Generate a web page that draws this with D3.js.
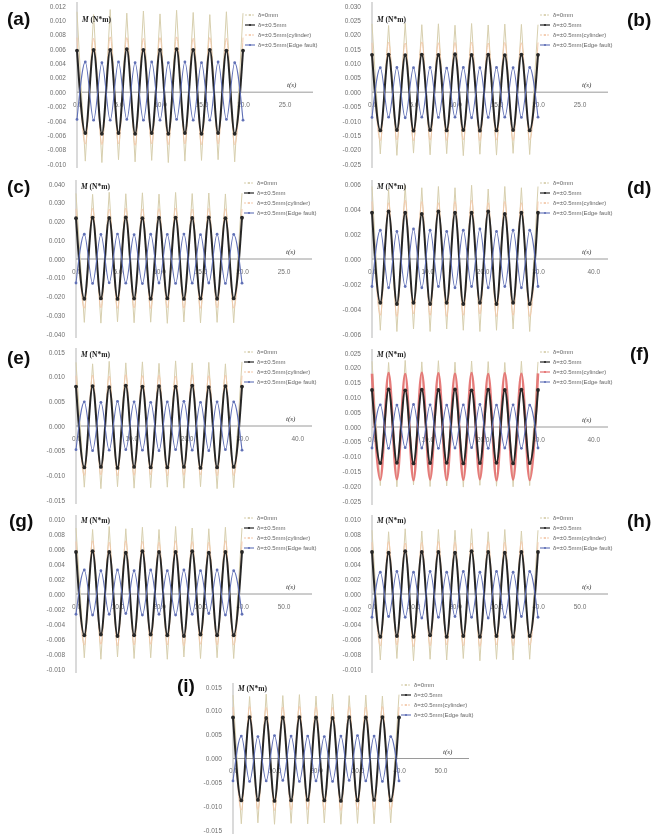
<!DOCTYPE html>
<html>
<head>
<meta charset="utf-8">
<script src="https://cdn.jsdelivr.net/npm/d3@7"></script>
<style>
  body { margin: 0; background: #fff; }
  svg { display: block; }
</style>
</head>
<body>
<div id="main"></div>
<script>
///
/// Data : time of each peak / trough, tick values, and the peak / trough values
///
var t25 = [0,1,2,3,4,5,6,7,8,9,10,11,12,13,14,15,16,17,18,19,20];
var t40 = [0,1.5,3,4.5,6,7.5,9,10.5,12,13.5,15,16.5,18,19.5,21,22.5,24,25.5,27,28.5,30];
var t50 = [0,2,4,6,8,10,12,14,16,18,20,22,24,26,28,30,32,34,36,38,40];

var xTicks25 = [0,5,10,15,20,25];
var xTicks40 = [0,10,20,30,40];
var xTicks50 = [0,10,20,30,40,50];

var yTicksA = [0.012,0.010,0.008,0.006,0.004,0.002,0,-0.002,-0.004,-0.006,-0.008,-0.010];
var yTicksB = [0.030,0.025,0.020,0.015,0.010,0.005,0,-0.005,-0.010,-0.015,-0.020,-0.025];
var yTicksC = [0.040,0.030,0.020,0.010,0,-0.010,-0.020,-0.030,-0.040];
var yTicksD = [0.006,0.004,0.002,0,-0.002,-0.004,-0.006];
var yTicksE = [0.015,0.010,0.005,0,-0.005,-0.010,-0.015];
var yTicksF = [0.025,0.020,0.015,0.010,0.005,0,-0.005,-0.010,-0.015,-0.020,-0.025];
var yTicksG = [0.010,0.008,0.006,0.004,0.002,0,-0.002,-0.004,-0.006,-0.008,-0.010];
var yTicksH = [0.010,0.008,0.006,0.004,0.002,0,-0.002,-0.004,-0.006,-0.008,-0.010];
var yTicksI = [0.015,0.010,0.005,0,-0.005,-0.010,-0.015];

// legend order: δ=0mm, δ=±0.5mm, cylinder, edge fault
var seriesNames = ["δ=0mm", "δ=±0.5mm", "δ=±0.5mm(cylinder)", "δ=±0.5mm(Edge fault)"];

// (a)
var aTan = [0.0112,-0.0096,0.0108,-0.0098,0.0115,-0.0094,0.0110,-0.0097,0.0113,-0.0095,0.0109,-0.0098,0.0114,-0.0096,0.0111,-0.0095,0.0108,-0.0094,0.0112,-0.0097,0.0110];
var aBlk = [0.0058,-0.0057,0.0059,-0.0058,0.0059,-0.0057,0.0060,-0.0058,0.0059,-0.0057,0.0059,-0.0058,0.0060,-0.0057,0.0059,-0.0058,0.0059,-0.0057,0.0058,-0.0058,0.0058];
var aCyl = [0.0076,-0.0072,0.0075,-0.0073,0.0077,-0.0072,0.0076,-0.0074,0.0075,-0.0072,0.0076,-0.0073,0.0077,-0.0072,0.0075,-0.0073,0.0076,-0.0072,0.0075,-0.0073,0.0076];
var aBlu = [-0.0038,0.0042,-0.0039,0.0041,-0.0039,0.0042,-0.0038,0.0041,-0.0039,0.0042,-0.0039,0.0041,-0.0038,0.0042,-0.0039,0.0041,-0.0039,0.0042,-0.0038,0.0041,-0.0039];
// (b)
var bTan = [0.0238,-0.0215,0.0232,-0.0220,0.0240,-0.0212,0.0235,-0.0218,0.0238,-0.0214,0.0233,-0.0221,0.0239,-0.0216,0.0234,-0.0219,0.0237,-0.0213,0.0236,-0.0217,0.0235];
var bBlk = [0.0130,-0.0133,0.0131,-0.0132,0.0129,-0.0134,0.0131,-0.0132,0.0130,-0.0133,0.0132,-0.0132,0.0130,-0.0134,0.0131,-0.0133,0.0129,-0.0132,0.0131,-0.0133,0.0130];
var bCyl = [0.0172,-0.0168,0.0174,-0.0166,0.0171,-0.0169,0.0175,-0.0167,0.0172,-0.0168,0.0173,-0.0166,0.0174,-0.0169,0.0171,-0.0167,0.0173,-0.0168,0.0172,-0.0166,0.0173];
var bBlu = [-0.0088,0.0085,-0.0087,0.0086,-0.0089,0.0085,-0.0087,0.0086,-0.0088,0.0084,-0.0087,0.0086,-0.0089,0.0085,-0.0088,0.0086,-0.0087,0.0085,-0.0088,0.0086,-0.0087];
// (c)
var cTan = [0.0350,-0.0338,0.0345,-0.0342,0.0356,-0.0335,0.0348,-0.0340,0.0353,-0.0337,0.0346,-0.0343,0.0355,-0.0336,0.0349,-0.0341,0.0352,-0.0338,0.0347,-0.0340,0.0351];
var cBlk = [0.0218,-0.0212,0.0221,-0.0210,0.0219,-0.0213,0.0222,-0.0211,0.0218,-0.0212,0.0220,-0.0210,0.0221,-0.0213,0.0219,-0.0211,0.0222,-0.0212,0.0218,-0.0210,0.0220];
var cCyl = [0.0268,-0.0262,0.0270,-0.0260,0.0266,-0.0263,0.0271,-0.0261,0.0267,-0.0264,0.0269,-0.0260,0.0272,-0.0262,0.0266,-0.0263,0.0270,-0.0261,0.0268,-0.0262,0.0267];
var cBlu = [-0.0128,0.0132,-0.0130,0.0131,-0.0127,0.0133,-0.0129,0.0130,-0.0131,0.0132,-0.0128,0.0131,-0.0130,0.0133,-0.0129,0.0130,-0.0128,0.0132,-0.0130,0.0131,-0.0129];
// (d)
var dTan = [0.0058,-0.0057,0.0056,-0.0058,0.0059,-0.0056,0.0057,-0.0058,0.0058,-0.0056,0.0057,-0.0057,0.0059,-0.0058,0.0056,-0.0057,0.0058,-0.0056,0.0057,-0.0058,0.0058];
var dBlk = [0.0037,-0.0035,0.0038,-0.0036,0.0037,-0.0035,0.0036,-0.0036,0.0038,-0.0035,0.0037,-0.0036,0.0037,-0.0035,0.0038,-0.0036,0.0036,-0.0035,0.0037,-0.0036,0.0037];
var dCyl = [0.0046,-0.0045,0.0045,-0.0046,0.0047,-0.0044,0.0046,-0.0045,0.0045,-0.0046,0.0046,-0.0045,0.0047,-0.0044,0.0045,-0.0046,0.0046,-0.0045,0.0045,-0.0046,0.0046];
var dBlu = [-0.0022,0.0023,-0.0023,0.0022,-0.0022,0.0024,-0.0023,0.0023,-0.0022,0.0022,-0.0023,0.0023,-0.0022,0.0024,-0.0023,0.0022,-0.0022,0.0023,-0.0023,0.0023,-0.0022];
// (e)
var eTan = [0.0129,-0.0124,0.0126,-0.0127,0.0131,-0.0123,0.0128,-0.0126,0.0130,-0.0125,0.0127,-0.0124,0.0132,-0.0126,0.0128,-0.0123,0.0129,-0.0127,0.0126,-0.0125,0.0130];
var eBlk = [0.0080,-0.0084,0.0081,-0.0083,0.0079,-0.0085,0.0082,-0.0083,0.0080,-0.0084,0.0081,-0.0084,0.0080,-0.0083,0.0082,-0.0085,0.0079,-0.0084,0.0081,-0.0083,0.0080];
var eCyl = [0.0102,-0.0100,0.0103,-0.0099,0.0101,-0.0101,0.0104,-0.0100,0.0102,-0.0099,0.0103,-0.0101,0.0101,-0.0100,0.0104,-0.0099,0.0102,-0.0101,0.0103,-0.0100,0.0102];
var eBlu = [-0.0048,0.0049,-0.0050,0.0048,-0.0049,0.0050,-0.0048,0.0049,-0.0049,0.0048,-0.0050,0.0049,-0.0048,0.0050,-0.0049,0.0048,-0.0050,0.0049,-0.0048,0.0049,-0.0049];
// (f)
var fTan = [0.0222,-0.0198,0.0218,-0.0202,0.0225,-0.0196,0.0220,-0.0201,0.0224,-0.0199,0.0219,-0.0203,0.0223,-0.0197,0.0221,-0.0200,0.0218,-0.0202,0.0222,-0.0198,0.0220];
var fBlk = [0.0125,-0.0122,0.0127,-0.0121,0.0124,-0.0123,0.0126,-0.0122,0.0125,-0.0121,0.0127,-0.0123,0.0124,-0.0122,0.0126,-0.0121,0.0125,-0.0123,0.0126,-0.0122,0.0125];
var fCyl = [0.0180,-0.0178,0.0182,-0.0176,0.0179,-0.0180,0.0183,-0.0177,0.0181,-0.0179,0.0180,-0.0178,0.0182,-0.0176,0.0179,-0.0180,0.0181,-0.0177,0.0180,-0.0179,0.0181];
var fBlu = [-0.0071,0.0075,-0.0072,0.0074,-0.0070,0.0076,-0.0071,0.0075,-0.0072,0.0074,-0.0071,0.0075,-0.0070,0.0076,-0.0072,0.0074,-0.0071,0.0075,-0.0072,0.0074,-0.0071];
// (g)
var gTan = [0.0088,-0.0085,0.0086,-0.0087,0.0090,-0.0084,0.0087,-0.0086,0.0089,-0.0085,0.0086,-0.0087,0.0090,-0.0084,0.0088,-0.0086,0.0087,-0.0085,0.0089,-0.0086,0.0088];
var gBlk = [0.0056,-0.0055,0.0057,-0.0054,0.0056,-0.0056,0.0055,-0.0055,0.0057,-0.0054,0.0056,-0.0055,0.0056,-0.0056,0.0057,-0.0054,0.0055,-0.0055,0.0056,-0.0055,0.0056];
var gCyl = [0.0070,-0.0068,0.0071,-0.0067,0.0069,-0.0069,0.0071,-0.0068,0.0070,-0.0067,0.0069,-0.0068,0.0071,-0.0069,0.0070,-0.0067,0.0069,-0.0068,0.0071,-0.0068,0.0070];
var gBlu = [-0.0027,0.0032,-0.0028,0.0031,-0.0027,0.0032,-0.0026,0.0031,-0.0028,0.0032,-0.0027,0.0031,-0.0028,0.0032,-0.0027,0.0031,-0.0026,0.0032,-0.0028,0.0031,-0.0027];
// (h)
var hTan = [0.0085,-0.0088,0.0083,-0.0086,0.0087,-0.0089,0.0084,-0.0087,0.0086,-0.0088,0.0085,-0.0086,0.0087,-0.0089,0.0083,-0.0087,0.0086,-0.0088,0.0084,-0.0087,0.0085];
var hBlk = [0.0056,-0.0057,0.0055,-0.0056,0.0057,-0.0057,0.0056,-0.0055,0.0056,-0.0057,0.0055,-0.0056,0.0057,-0.0057,0.0056,-0.0056,0.0055,-0.0057,0.0056,-0.0056,0.0056];
var hCyl = [0.0069,-0.0069,0.0070,-0.0068,0.0068,-0.0070,0.0069,-0.0069,0.0070,-0.0068,0.0069,-0.0069,0.0068,-0.0070,0.0070,-0.0068,0.0069,-0.0069,0.0070,-0.0068,0.0069];
var hBlu = [-0.0031,0.0029,-0.0030,0.0030,-0.0031,0.0029,-0.0032,0.0030,-0.0031,0.0029,-0.0030,0.0030,-0.0031,0.0029,-0.0032,0.0030,-0.0031,0.0029,-0.0030,0.0030,-0.0031];
// (i)
var iTan = [0.0133,-0.0137,0.0130,-0.0135,0.0135,-0.0138,0.0132,-0.0136,0.0134,-0.0137,0.0131,-0.0135,0.0135,-0.0138,0.0132,-0.0136,0.0133,-0.0137,0.0131,-0.0135,0.0134];
var iBlk = [0.0086,-0.0088,0.0087,-0.0087,0.0085,-0.0089,0.0086,-0.0088,0.0087,-0.0087,0.0086,-0.0088,0.0085,-0.0089,0.0087,-0.0088,0.0086,-0.0087,0.0087,-0.0088,0.0086];
var iCyl = [0.0108,-0.0108,0.0109,-0.0107,0.0107,-0.0109,0.0108,-0.0108,0.0109,-0.0107,0.0108,-0.0108,0.0107,-0.0109,0.0109,-0.0107,0.0108,-0.0108,0.0109,-0.0107,0.0108];
var iBlu = [-0.0047,0.0047,-0.0048,0.0046,-0.0047,0.0048,-0.0046,0.0047,-0.0048,0.0047,-0.0047,0.0046,-0.0048,0.0047,-0.0046,0.0048,-0.0047,0.0047,-0.0048,0.0046,-0.0047];

///
/// Layout
///
var panels = [
  {lab:"(a)", lx:7,   ly:25,  ax:77,  top:6,   bot:164, my:19,  gy:15,  yt:yTicksA, t:t25, xt:xTicks25, s:[aTan,aBlk,aCyl,aBlu]},
  {lab:"(b)", lx:627, ly:26,  ax:372, top:6,   bot:164, my:19,  gy:15,  yt:yTicksB, t:t25, xt:xTicks25, s:[bTan,bBlk,bCyl,bBlu]},
  {lab:"(c)", lx:7,   ly:193, ax:76,  top:184, bot:334, my:186, gy:183, yt:yTicksC, t:t25, xt:xTicks25, s:[cTan,cBlk,cCyl,cBlu]},
  {lab:"(d)", lx:627, ly:194, ax:372, top:184, bot:334, my:186, gy:183, yt:yTicksD, t:t40, xt:xTicks40, s:[dTan,dBlk,dCyl,dBlu]},
  {lab:"(e)", lx:7,   ly:364, ax:76,  top:352, bot:500, my:354, gy:352, yt:yTicksE, t:t40, xt:xTicks40, s:[eTan,eBlk,eCyl,eBlu]},
  {lab:"(f)", lx:630, ly:360, ax:372, top:353, bot:501, my:354, gy:352, yt:yTicksF, t:t40, xt:xTicks40, s:[fTan,fBlk,fCyl,fBlu], red:true},
  {lab:"(g)", lx:9,   ly:527, ax:76,  top:519, bot:669, my:520, gy:518, yt:yTicksG, t:t50, xt:xTicks50, s:[gTan,gBlk,gCyl,gBlu]},
  {lab:"(h)", lx:627, ly:527, ax:372, top:519, bot:669, my:520, gy:518, yt:yTicksH, t:t50, xt:xTicks50, s:[hTan,hBlk,hCyl,hBlu]},
  {lab:"(i)", lx:177, ly:692, ax:233, top:687, bot:830, my:688, gy:685, yt:yTicksI, t:t50, xt:xTicks50, s:[iTan,iBlk,iCyl,iBlu]}
];

var fmtY = function(v) { return d3.format(".3f")(v).replace("\u2212", "-"); };
var fmtX = d3.format(".1f");

var svg = d3.select("#main").append("svg")
  .attr("width", 667).attr("height", 836);

svg.append("defs").append("filter").attr("id", "soft")
  .append("feGaussianBlur").attr("stdDeviation", 0.35);

var root = svg.append("g").attr("filter", "url(#soft)");

// k follows seriesNames
function styleFor(k, red) {
  if (k == 0) return {c:"#d7cfae", w:1.0, op:1, dash:"2,1.5"};
  if (k == 1) return {c:"#262626", w:2.0, op:1, dash:null};
  if (k == 2) return red ? {c:"#e46f6f", w:2.6, op:0.9, dash:null} : {c:"#f3c9ab", w:1.0, op:1, dash:"2,1.5"};
  return {c:"#6070b6", w:1.1, op:1, dash:null};
}
var drawOrder = [0, 2, 1, 3];

panels.forEach(function(p) {
  var g = root.append("g");
  var tEnd = p.t[p.t.length - 1];
  var xMax = p.xt[p.xt.length - 1];

  var x = d3.scaleLinear().domain([0, xMax]).range([p.ax, p.ax + 166 * xMax / tEnd]);
  var y = d3.scaleLinear().domain(d3.extent(p.yt)).range([p.bot, p.top]);
  var y0 = y(0);

  // panel letter
  g.append("text").attr("x", p.lx).attr("y", p.ly)
    .attr("font-family", "Liberation Sans, Arial, sans-serif")
    .attr("font-weight", "bold").attr("font-size", 19).attr("fill", "#111")
    .text(p.lab);

  // y labels
  var ya = g.append("g").attr("transform", "translate(" + (p.ax - 11) + ",0)")
    .call(d3.axisLeft(y).tickValues(p.yt).tickFormat(fmtY).tickSize(0).tickPadding(0));
  ya.select(".domain").remove();
  ya.attr("font-size", 6.5).attr("font-family", "Liberation Sans, Arial, sans-serif");
  ya.selectAll("text").attr("fill", "#707070");

  // x labels
  var xa = g.append("g").attr("transform", "translate(0," + y0 + ")")
    .call(d3.axisBottom(x).tickValues(p.xt).tickFormat(fmtX).tickSize(0).tickPadding(10));
  xa.select(".domain").remove();
  xa.attr("font-size", 6.5).attr("font-family", "Liberation Sans, Arial, sans-serif");
  xa.selectAll("text").attr("fill", "#707070");

  // axis lines
  g.append("line").attr("x1", p.ax).attr("x2", p.ax)
    .attr("y1", p.top - 4).attr("y2", p.bot + 4)
    .attr("stroke", "#b5b5b5").attr("stroke-width", 1);
  g.append("line").attr("x1", p.ax).attr("x2", p.ax + 236)
    .attr("y1", y0).attr("y2", y0)
    .attr("stroke", "#9a9a9a").attr("stroke-width", 1);

  // curves
  drawOrder.forEach(function(k) {
    var vals = p.s[k];
    var st = styleFor(k, p.red);
    var line = d3.line()
      .x(function(d, i) { return x(p.t[i]); })
      .y(function(d) { return y(d); })
      .curve(k == 0 ? d3.curveLinear : d3.curveMonotoneX);
    g.append("path").datum(vals)
      .attr("d", line)
      .attr("fill", "none")
      .attr("stroke", st.c)
      .attr("stroke-width", st.w)
      .attr("stroke-opacity", st.op)
      .attr("stroke-linejoin", "round");
    if (k == 1 || k == 3) {
      g.selectAll(null).data(vals).enter().append("circle")
        .attr("cx", function(d, i) { return x(p.t[i]); })
        .attr("cy", function(d) { return y(d); })
        .attr("r", k == 1 ? 1.9 : 1.4)
        .attr("fill", st.c);
    }
  });

  // labels on the axes
  var m = g.append("text").attr("x", p.ax + 5).attr("y", p.my + 2.5)
    .attr("font-family", "Liberation Serif, serif").attr("font-size", 7.5)
    .attr("font-weight", "bold").attr("fill", "#222");
  m.append("tspan").attr("font-style", "italic").text("M");
  m.append("tspan").text(" (N*m)");

  g.append("text").attr("x", p.ax + 210).attr("y", y0 - 5)
    .attr("font-family", "Liberation Serif, serif").attr("font-size", 7)
    .attr("font-style", "italic").attr("fill", "#333")
    .text("t(s)");

  // legend
  var lg = g.append("g").attr("transform", "translate(" + (p.ax + 168) + "," + p.gy + ")");
  seriesNames.forEach(function(nm, k) {
    var st = styleFor(k, p.red);
    var row = lg.append("g").attr("transform", "translate(0," + (k * 10) + ")");
    row.append("line").attr("x1", 0).attr("x2", 10).attr("y1", 0).attr("y2", 0)
      .attr("stroke", st.c).attr("stroke-width", Math.min(st.w, 1.2))
      .attr("stroke-dasharray", st.dash);
    row.append("circle").attr("cx", 5).attr("cy", 0).attr("r", 1.1).attr("fill", st.c);
    row.append("text").attr("x", 13).attr("y", 2)
      .attr("font-family", "Liberation Sans, Arial, sans-serif")
      .attr("font-size", 6).attr("fill", "#666")
      .text(nm);
  });
});
</script>
</body>
</html>
